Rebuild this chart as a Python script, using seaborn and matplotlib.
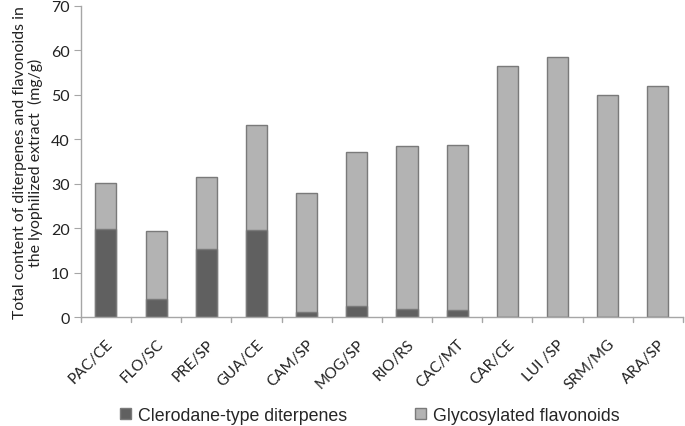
import matplotlib
matplotlib.use("Agg")
import matplotlib.pyplot as plt
import seaborn as sns
import pandas as pd
from matplotlib.patches import Patch

categories = ["PAC/CE", "FLO/SC", "PRE/SP", "GUA/CE", "CAM/SP", "MOG/SP",
              "RIO/RS", "CAC/MT", "CAR/CE", "LUI /SP", "SRM/MG", "ARA/SP"]
diterpenes = [19.9, 4.1, 15.4, 19.6, 1.1, 2.6, 1.9, 1.6, 0.0, 0.0, 0.0, 0.0]
totals = [30.1, 19.4, 31.6, 43.3, 27.9, 37.2, 38.4, 38.8, 56.4, 58.5, 49.9, 51.9]
flavonoids = [t - d for t, d in zip(totals, diterpenes)]
yticks = [0, 10, 20, 30, 40, 50, 60, 70]

sns.set_style("white")
plt.rcParams["font.family"] = ["Lato", "DejaVu Sans"]

dark = "#606060"
light = "#b3b3b3"
edge = "#7a7a7a"
axis_c = "#a6a6a6"

df = pd.DataFrame({"cat": categories, "dit": diterpenes,
                   "flav": flavonoids, "tot": totals})

fig = plt.figure(figsize=(6.85, 4.27), dpi=100)
ax = fig.add_axes([0.118, 0.255, 0.879, 0.729])

sns.barplot(data=df, x="cat", y="tot", color=light, width=0.42,
            edgecolor=edge, linewidth=1.0, saturation=1, ax=ax)
sns.barplot(data=df, x="cat", y="dit", color=dark, width=0.42,
            edgecolor=edge, linewidth=1.0, saturation=1, ax=ax)

ax.set_ylim(0, 70)
ax.set_xlim(-0.5, len(categories) - 0.5)
ax.set_yticks(yticks)
ax.set_yticklabels([str(v) for v in yticks], fontsize=11.5, color="#222222")
ax.set_xticks(range(len(categories)))
ax.set_xticklabels(categories, rotation=45, ha="right", rotation_mode="anchor",
                   fontsize=11, color="#222222")
ax.tick_params(axis="x", length=0, pad=14)
ax.tick_params(axis="y", length=5, color=axis_c, direction="out", pad=3, left=True)
# boundary ticks on x axis
for b in range(len(categories) + 1):
    ax.plot([b - 0.5, b - 0.5], [0, -1.2], color=axis_c, lw=1, clip_on=False)

for s in ["top", "right"]:
    ax.spines[s].set_visible(False)
for s in ["left", "bottom"]:
    ax.spines[s].set_color(axis_c)
    ax.spines[s].set_linewidth(1)

ax.set_xlabel("")
ax.set_ylabel("Total content of diterpenes and flavonoids in\nthe lyophilized extract  (mg/g)",
              fontsize=11.4, labelpad=6, color="#222222", linespacing=1.05)

handles = [Patch(facecolor=dark, edgecolor=edge, label="Clerodane-type diterpenes"),
           Patch(facecolor=light, edgecolor=edge, label="Glycosylated flavonoids")]
fig.legend(handles=handles, loc="center", bbox_to_anchor=(0.54, 0.025), ncol=2,
           frameon=False, handlelength=0.6, handleheight=0.6,
           handletextpad=0.4, columnspacing=3.8,
           prop={"family": ["Liberation Sans", "DejaVu Sans"], "size": 12.8})

fig.savefig("out.png", dpi=100)
